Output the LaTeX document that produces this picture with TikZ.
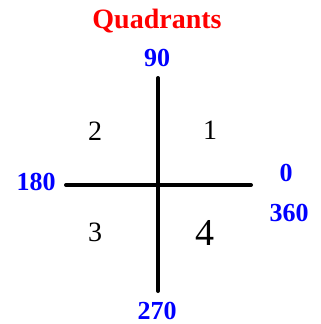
\documentclass[tikz,border=0pt]{standalone}
\usepackage{fontspec}
\setmainfont{Liberation Serif}
\usetikzlibrary{positioning}
\definecolor{titleClr}{HTML}{FF0000}
\definecolor{angleClr}{HTML}{0000FF}
\definecolor{axisClr}{HTML}{000000}

\begin{document}
\begin{tikzpicture}[
  x=1pt, y=-1pt,
  angle/.style={anchor=base, text=angleClr, font=\fontsize{26}{28}\selectfont\bfseries, inner sep=0pt},
  quad/.style={anchor=base, text=axisClr, font=\fontsize{28}{30}\selectfont, inner sep=0pt},
  axis/.style={draw=axisClr, line width=4pt, line cap=round},
]
\useasboundingbox (0,0) rectangle (321,324);

% ---------- title ----------
\node[anchor=base, text=titleClr, font=\fontsize{28}{30}\selectfont\bfseries, inner sep=0pt]
  (title) at (157,28) {Quadrants};

% ---------- axes ----------
\coordinate (top) at (158,78);
\coordinate (bot) at (158,291);
\coordinate (lft) at (66,185);
\coordinate (rgt) at (251,185);
\draw[axis] (top) -- (bot);
\draw[axis] (lft) -- (rgt);

% ---------- angle labels ----------
\node[angle] (a90) at (157,66) {90};
\node[angle] (a180) at (36,190) {180};
\node[angle] (a0) at (286,181) {0};
\node[angle] (a360) at (289,221) {360};
\node[angle] (a270) at (157,319) {270};

% ---------- quadrant numbers ----------
\node[quad] (q1) at (210,139) {1};
\node[quad] (q2) at (95,140) {2};
\node[quad] (q3) at (95,241) {3};
\node[quad, font=\fontsize{38}{40}\selectfont] (q4) at (205,245) {4};

\end{tikzpicture}
\end{document}
